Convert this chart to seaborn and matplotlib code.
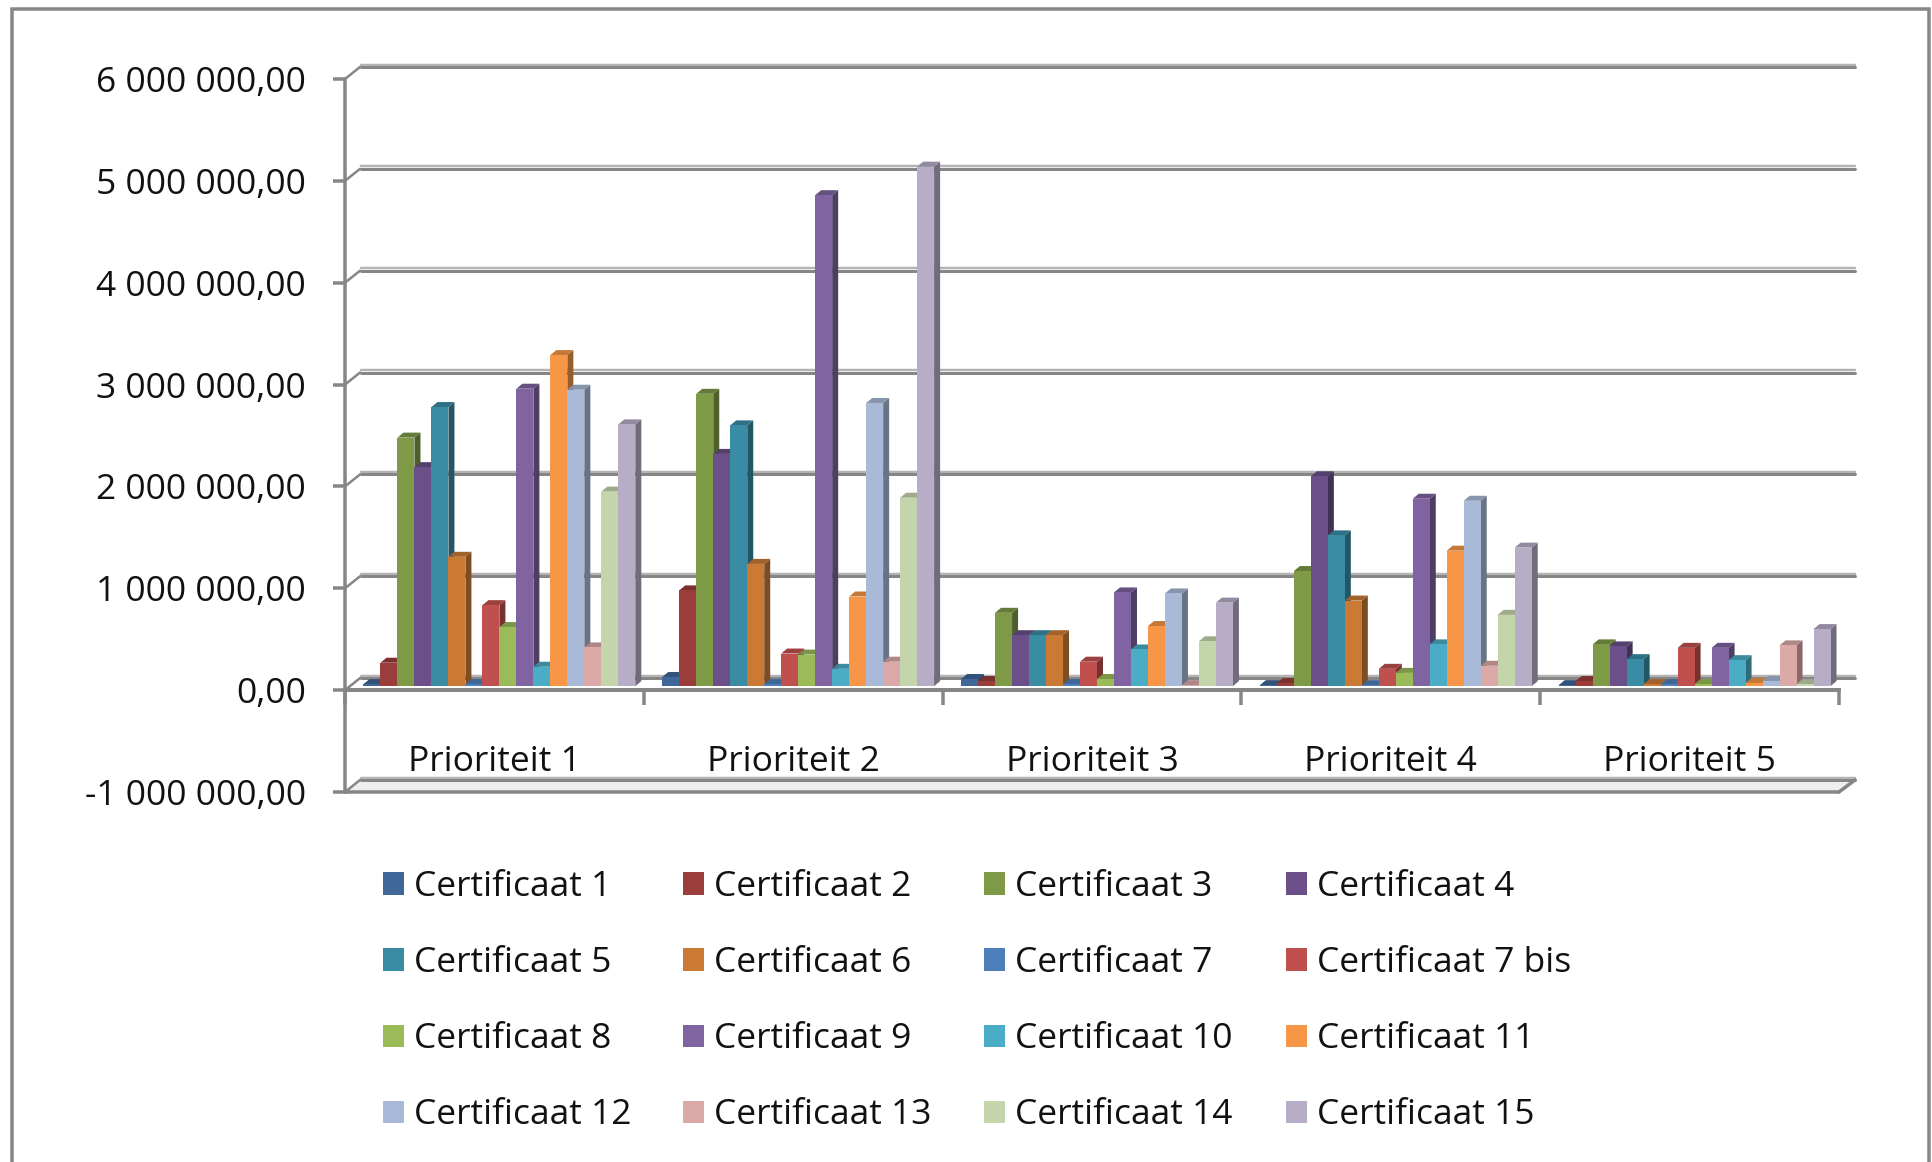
import matplotlib
matplotlib.use("Agg")
import matplotlib.pyplot as plt
import seaborn as sns
import pandas as pd
from matplotlib.lines import Line2D
from matplotlib.patches import Polygon
from matplotlib.transforms import Affine2D, IdentityTransform
from matplotlib.colors import to_rgb

certificates = ["Certificaat 1", "Certificaat 2", "Certificaat 3", "Certificaat 4",
                "Certificaat 5", "Certificaat 6", "Certificaat 7", "Certificaat 7 bis",
                "Certificaat 8", "Certificaat 9", "Certificaat 10", "Certificaat 11",
                "Certificaat 12", "Certificaat 13", "Certificaat 14", "Certificaat 15"]
priorities = ["Prioriteit 1", "Prioriteit 2", "Prioriteit 3", "Prioriteit 4", "Prioriteit 5"]
colors = ["#3F6797", "#9B3D3B", "#7E9A47", "#6A4F88", "#3A8CA5", "#CA7A35", "#4F7FBA", "#C0504D",
          "#9BBB59", "#8064A2", "#4BACC6", "#F79646", "#A9B9D8", "#DBA9A8", "#C5D5AB", "#B7ADC7"]

prio1 = [0.02, 0.23, 2.44, 2.15, 2.74, 1.27, 0.02, 0.795, 0.58, 2.92, 0.19, 3.25, 2.91, 0.38, 1.91, 2.57]
prio2 = [0.09, 0.94, 2.87, 2.28, 2.56, 1.20, 0.02, 0.32, 0.31, 4.82, 0.17, 0.88, 2.78, 0.24, 1.85, 5.10]
prio3 = [0.07, 0.05, 0.72, 0.50, 0.50, 0.50, 0.02, 0.24, 0.07, 0.92, 0.36, 0.59, 0.91, 0.01, 0.44, 0.82]
prio4 = [0.01, 0.03, 1.13, 2.06, 1.48, 0.84, 0.01, 0.17, 0.13, 1.84, 0.41, 1.33, 1.82, 0.20, 0.70, 1.36]
prio5 = [0.01, 0.05, 0.41, 0.39, 0.265, 0.02, 0.02, 0.376, 0.02, 0.376, 0.255, 0.03, 0.05, 0.40, 0.02, 0.56]
ytick_values = [-1000000, 0, 1000000, 2000000, 3000000, 4000000, 5000000, 6000000]
ytick_labels = ["-1 000 000,00", "0,00", "1 000 000,00", "2 000 000,00", "3 000 000,00",
                "4 000 000,00", "5 000 000,00", "6 000 000,00"]

W, H = 1933, 1162
GRID = "#868686"
FS = 25.5
sns.set_theme(style="white")
plt.rcParams["font.family"] = ["Open Sans", "DejaVu Sans"]

fig = plt.figure(figsize=(W / 100, H / 100), dpi=100, facecolor="white")
L, R, T, B = 345, 1839, 79, 792
ax = fig.add_axes([L / W, 1 - B / H, (R - L) / W, (B - T) / H])
ax.patch.set_alpha(0)

rows = []
for pname, vals in zip(priorities, [prio1, prio2, prio3, prio4, prio5]):
    for cname, v in zip(certificates, vals):
        rows.append({"prio": pname, "cert": cname, "value": v * 1e6})
df = pd.DataFrame(rows)

sns.barplot(data=df, x="prio", y="value", hue="cert", hue_order=certificates, order=priorities,
            palette=colors, saturation=1, width=272 / 299, gap=0, errorbar=None, linewidth=0, ax=ax)
handles, labels = ax.get_legend_handles_labels()
ax.get_legend().remove()

ax.set_xlim(-0.5, 4.5)
ax.set_ylim(-1e6, 6e6)
ax.set_xlabel("")
ax.set_ylabel("")
fig.canvas.draw()

px = 72 / 100
# chart frame (bottom edge lies beyond the picture)
frame_x = [12 / W, 12 / W, 1929 / W, 1929 / W]
frame_y = [0, 1 - 9 / H, 1 - 9 / H, 0]
fig.add_artist(Line2D(frame_x, frame_y, color=GRID, lw=3.5 * px, solid_joinstyle="miter"))

# axes
for s in ["top", "right"]:
    ax.spines[s].set_visible(False)
ax.spines["left"].set_color(GRID)
ax.spines["left"].set_linewidth(3.5 * px)
ax.spines["bottom"].set_color(GRID)
ax.spines["bottom"].set_linewidth(4 * px)
ax.spines["bottom"].set_position(("data", 0))
ax.spines["bottom"].set_zorder(1.5)

ax.set_yticks(ytick_values, ytick_labels)
ax.tick_params(axis="y", left=True, length=12 * px, width=3.5 * px, color=GRID,
               pad=27 * px, labelsize=FS, labelcolor="#111111")
ax.set_xticks(range(5), priorities)
ax.tick_params(axis="x", which="major", bottom=False, length=0, pad=55 * px, labelsize=FS, labelcolor="#111111")
ax.set_xticks([-0.5, 0.5, 1.5, 2.5, 3.5, 4.5], minor=True)
ax.tick_params(axis="x", which="minor", bottom=True, length=15 * px, width=3.5 * px, color=GRID)

# depth of the chart box, in pixels
DX, DY = 16, 12
back = ax.transData + Affine2D().translate(DX, DY)
shade = ax.transData + Affine2D().translate(DX, DY + 2.5)
for v in ytick_values:
    ax.plot([-0.5, 4.5], [v, v], transform=shade, color="#b4b4b4", lw=2.5 * px, zorder=1, clip_on=False)
    ax.plot([-0.5, 4.5], [v, v], transform=back, color=GRID, lw=3 * px, zorder=1.1, clip_on=False)
    x0, y0 = ax.transData.transform((-0.5, v))
    ax.add_line(Line2D([x0, x0 + DX - 1], [y0, y0 + DY], transform=IdentityTransform(),
                       color=GRID, lw=2.5 * px, zorder=1.2, clip_on=False))

# floor under the lowest gridline
fx0, fy0 = ax.transData.transform((-0.5, -1e6))
fx1, fy1 = ax.transData.transform((4.5, -1e6))
ax.add_patch(Polygon([(fx0, fy0), (fx1, fy1), (fx1 + DX, fy1 + DY), (fx0 + DX, fy0 + DY)],
                     closed=True, transform=IdentityTransform(), facecolor="#eeeeee",
                     edgecolor="none", zorder=0.9, clip_on=False))
ax.add_line(Line2D([fx0, fx1], [fy0, fy1], transform=IdentityTransform(), color=GRID, lw=3.5 * px,
                   zorder=1.3, clip_on=False))
ax.add_line(Line2D([fx1, fx1 + DX], [fy1, fy1 + DY], transform=IdentityTransform(), color=GRID, lw=3.5 * px,
                   zorder=1.3, clip_on=False))


def darker(c, f):
    r, g, b = to_rgb(c)
    return (r * f, g * f, b * f)


# give each seaborn bar its 3D side and top
OX, OY = 5, 4          # bar position inside the box
SX, SY = 6, 5          # bar depth
shift = Affine2D().translate(OX, OY)
bars = sorted([b for c in ax.containers for b in c], key=lambda b: b.get_x())
for i, bar in enumerate(bars):
    z = 3 + i * 0.01
    bar.set_transform(ax.transData + shift)
    bar.set_zorder(z + 0.002)
    bar.set_clip_on(False)
    col = bar.get_facecolor()
    (ax0, ay0) = ax.transData.transform((bar.get_x(), 0)) + (OX, OY)
    (ax1, ay1) = ax.transData.transform((bar.get_x() + bar.get_width(), bar.get_height())) + (OX, OY)
    side = Polygon([(ax1, ay0), (ax1 + SX, ay0 + SY), (ax1 + SX, ay1 + SY), (ax1, ay1)],
                   closed=True, transform=IdentityTransform(), facecolor=darker(col, 0.62),
                   edgecolor="none", zorder=z, clip_on=False)
    top = Polygon([(ax0, ay1), (ax1, ay1), (ax1 + SX, ay1 + SY), (ax0 + SX, ay1 + SY)],
                  closed=True, transform=IdentityTransform(), facecolor=darker(col, 0.8),
                  edgecolor="none", zorder=z + 0.001, clip_on=False)
    ax.add_patch(side)
    ax.add_patch(top)

# legend: one legend per column, entries run row by row
col_x = [383, 683, 984, 1286]
for i, x in enumerate(col_x):
    fig.legend(handles[i::4], labels[i::4], loc="upper left",
               bbox_to_anchor=(x / W, 1 - 870 / H), bbox_transform=fig.transFigure,
               frameon=False, fontsize=FS, borderpad=0, borderaxespad=0,
               handlelength=0.6, handleheight=0.6, handletextpad=0.28, labelspacing=1.19,
               labelcolor="#111111")

fig.savefig("out.png", dpi=100, facecolor="white")
